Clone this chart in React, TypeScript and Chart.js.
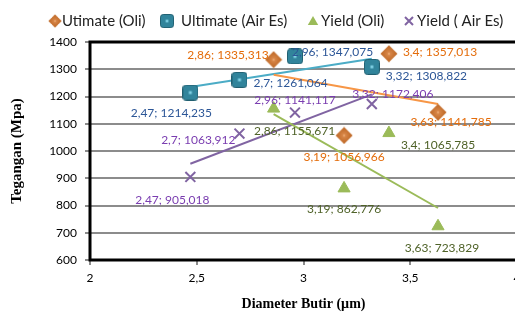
import React, { useEffect, useRef } from 'react';
import { Chart, registerables } from 'chart.js';
Chart.register(...registerables);

// ---- data ----
const seriesNames = ['Utimate (Oli)', 'Ultimate (Air Es)', 'Yield (Oli)', 'Yield ( Air Es)'];
const ultOliX = [2.86, 3.4, 3.19, 3.63];
const ultOliY = [1335.313, 1357.013, 1056.966, 1141.785];
const ultAirX = [2.47, 2.7, 2.96, 3.32];
const ultAirY = [1214.235, 1261.064, 1347.075, 1308.822];
const yldOliX = [2.86, 3.19, 3.4, 3.63];
const yldOliY = [1155.671, 862.776, 1065.785, 723.829];
const yldAirX = [2.47, 2.7, 2.96, 3.32];
const yldAirY = [905.018, 1063.912, 1141.117, 1172.406];
const xTickValues = [2, 2.5, 3, 3.5, 4];
const yTickValues = [600, 700, 800, 900, 1000, 1100, 1200, 1300, 1400];

// ---- label layout (offset from the point, alignment) ----
type Place = [number, number, CanvasTextAlign];
const labelPlaces: Place[][] = [
  [[-5, -5, 'right'], [14, -2, 'left'], [0, 22, 'center'], [13, 10, 'center']],
  [[-19, 21, 'center'], [14, 3, 'left'], [-3, -4, 'left'], [14, 9, 'left']],
  [[21, 23, 'center'], [0, 21, 'center'], [12, 12, 'left'], [4, 22, 'center']],
  [[-18, 23, 'center'], [-4, 7, 'right'], [0, -12, 'center'], [21, -10, 'center']],
];
const labelColors = ['#E46C0A', '#2C5697', '#4F6228', '#7A3DB0'];
const lineColors = ['#F79646', '#4BACC6', '#9BBB59', '#8064A2'];
const legendMarkerX = [55, 167, 313, 409];
const legendTextX = [62, 181, 321, 417];

const fmt = (v: number, d?: number) => (d === undefined ? String(v) : v.toFixed(d)).replace('.', ',');

function trend(xs: number[], ys: number[]) {
  const n = xs.length;
  const mx = xs.reduce((a, b) => a + b, 0) / n;
  const my = ys.reduce((a, b) => a + b, 0) / n;
  let sxy = 0, sxx = 0;
  for (let i = 0; i < n; i++) { sxy += (xs[i] - mx) * (ys[i] - my); sxx += (xs[i] - mx) ** 2; }
  const b = sxy / sxx;
  const lo = Math.min(...xs), hi = Math.max(...xs);
  return [{ x: lo, y: my + b * (lo - mx) }, { x: hi, y: my + b * (hi - mx) }];
}

function makeDiamond() {
  const c = document.createElement('canvas');
  c.width = 18; c.height = 18;
  const g = c.getContext('2d')!;
  const grad = g.createRadialGradient(9, 9, 1, 9, 9, 9);
  grad.addColorStop(0, '#D9884A');
  grad.addColorStop(1, '#B9621F');
  g.fillStyle = grad;
  g.beginPath(); g.moveTo(9, 0.5); g.lineTo(17.5, 9); g.lineTo(9, 17.5); g.lineTo(0.5, 9); g.closePath(); g.fill();
  g.fillStyle = '#E9A36A';
  g.beginPath(); g.arc(9, 9, 1.2, 0, Math.PI * 2); g.fill();
  return c;
}

function makeSquare() {
  const c = document.createElement('canvas');
  c.width = 16; c.height = 16;
  const g = c.getContext('2d')!;
  g.fillStyle = '#31849B';
  g.strokeStyle = '#215F70';
  g.lineWidth = 1;
  g.beginPath();
  (g as any).roundRect(0.5, 0.5, 15, 15, 3);
  g.fill(); g.stroke();
  g.fillStyle = '#7FD0E4';
  g.fillRect(6.5, 6.5, 3, 3);
  return c;
}

function drawTri(ctx: CanvasRenderingContext2D, x: number, y: number, r: number, color: string) {
  ctx.fillStyle = color;
  ctx.beginPath();
  ctx.moveTo(x, y - r);
  ctx.lineTo(x + r * Math.sin(Math.PI / 3), y + r / 2);
  ctx.lineTo(x - r * Math.sin(Math.PI / 3), y + r / 2);
  ctx.closePath(); ctx.fill();
}
function drawX(ctx: CanvasRenderingContext2D, x: number, y: number, h: number, color: string) {
  ctx.strokeStyle = color; ctx.lineWidth = 2;
  ctx.beginPath();
  ctx.moveTo(x - h, y - h); ctx.lineTo(x + h, y + h);
  ctx.moveTo(x + h, y - h); ctx.lineTo(x - h, y + h);
  ctx.stroke();
}

export default function App() {
  const ref = useRef<HTMLCanvasElement>(null);
  useEffect(() => {
    const diamond = makeDiamond();
    const square = makeSquare();
    const pts = (xs: number[], ys: number[]) => xs.map((x, i) => ({ x, y: ys[i] }));
    const seriesX = [ultOliX, ultAirX, yldOliX, yldAirX];
    const seriesY = [ultOliY, ultAirY, yldOliY, yldAirY];

    const labelPlugin = {
      id: 'pointLabels',
      afterDatasetsDraw(chart: any) {
        const ctx = chart.ctx as CanvasRenderingContext2D;
        ctx.save();
        ctx.font = '12px Lato';
        ctx.textBaseline = 'middle';
        for (let s = 0; s < 4; s++) {
          const meta = chart.getDatasetMeta(s);
          meta.data.forEach((el: any, i: number) => {
            const [dx, dy, al] = labelPlaces[s][i];
            ctx.fillStyle = labelColors[s];
            ctx.textAlign = al;
            ctx.fillText(`${fmt(seriesX[s][i])}; ${fmt(seriesY[s][i], 3)}`, el.x + dx, el.y + dy);
          });
        }
        ctx.restore();
      },
    };

    const framePlugin = {
      id: 'frameLegend',
      afterDraw(chart: any) {
        const ctx = chart.ctx as CanvasRenderingContext2D;
        const a = chart.chartArea;
        ctx.save();
        ctx.strokeStyle = '#000';
        ctx.lineWidth = 3;
        ctx.strokeRect(a.left, a.top, a.right - a.left, a.bottom - a.top);
        // legend
        const ly = 21;
        ctx.drawImage(diamond, legendMarkerX[0] - 7, ly - 7, 14, 14);
        ctx.drawImage(square, legendMarkerX[1] - 7, ly - 7, 14, 14);
        drawTri(ctx, legendMarkerX[2], ly + 1, 6, '#9BBB59');
        drawX(ctx, legendMarkerX[3], ly, 4, '#8064A2');
        ctx.font = '15px Lato';
        ctx.fillStyle = '#222';
        ctx.textBaseline = 'middle';
        ctx.textAlign = 'left';
        seriesNames.forEach((n, i) => ctx.fillText(n, legendTextX[i], ly));
        ctx.restore();
      },
    };

    const chart = new Chart(ref.current!, {
      type: 'scatter',
      data: {
        datasets: [
          { label: seriesNames[0], data: pts(ultOliX, ultOliY), pointStyle: diamond as any, pointRadius: 9, backgroundColor: '#C0692B', borderColor: '#C0692B' },
          { label: seriesNames[1], data: pts(ultAirX, ultAirY), pointStyle: square as any, pointRadius: 8, backgroundColor: '#31849B', borderColor: '#31849B' },
          { label: seriesNames[2], data: pts(yldOliX, yldOliY), pointStyle: 'triangle', pointRadius: 7, backgroundColor: '#9BBB59', borderColor: '#9BBB59', borderWidth: 1 },
          { label: seriesNames[3], data: pts(yldAirX, yldAirY), pointStyle: 'crossRot', pointRadius: 7, backgroundColor: '#8064A2', borderColor: '#8064A2', borderWidth: 2 },
          ...[0, 1, 2, 3].map((s) => ({
            label: '',
            data: trend(seriesX[s], seriesY[s]),
            showLine: true,
            pointRadius: 0,
            borderColor: lineColors[s],
            borderWidth: 2,
          })),
        ] as any,
      },
      options: {
        responsive: false,
        animation: false,
        layout: { padding: { top: 42, right: 3, left: 0, bottom: 0 } },
        plugins: { legend: { display: false }, tooltip: { enabled: false } },
        scales: {
          x: {
            type: 'linear', min: 2, max: 4,
            afterBuildTicks: (s: any) => { s.ticks = xTickValues.map((v) => ({ value: v })); },
            afterFit: (s: any) => { s.height = 53; },
            ticks: { callback: (v: any) => fmt(Number(v)), font: { family: 'Lato', size: 12 }, color: '#000', padding: 6, autoSkip: false, maxRotation: 0 },
            grid: { drawOnChartArea: false, color: '#8C8C8C', lineWidth: 2, tickLength: 5 },
            border: { display: false },
            title: { display: true, text: 'Diameter Butir (µm)', color: '#000', font: { family: 'Liberation Serif', size: 14, weight: 'bold', lineHeight: 1.3 }, padding: { top: 0, bottom: 0 } },
          },
          y: {
            type: 'linear', min: 600, max: 1400,
            afterBuildTicks: (s: any) => { s.ticks = yTickValues.map((v) => ({ value: v })); },
            afterFit: (s: any) => { s.width = 90; },
            ticks: { callback: (v: any) => String(v), font: { family: 'Lato', size: 12 }, color: '#000', padding: 8 },
            grid: { color: '#8C8C8C', lineWidth: 2, tickLength: 5 },
            border: { display: false },
            title: { display: true, text: 'Tegangan (Mpa)', color: '#000', font: { family: 'Liberation Serif', size: 15, weight: 'bold', lineHeight: 1.2 }, padding: { top: 8, bottom: 0 } },
          },
        },
      } as any,
      plugins: [labelPlugin, framePlugin],
    });
    return () => chart.destroy();
  }, []);
  return (
    <div style={{ position: 'absolute', left: 0, top: 0, width: 515, height: 313, overflow: 'hidden', background: '#fff' }}>
      <canvas ref={ref} width={527} height={313} style={{ display: 'block' }} />
    </div>
  );
}
